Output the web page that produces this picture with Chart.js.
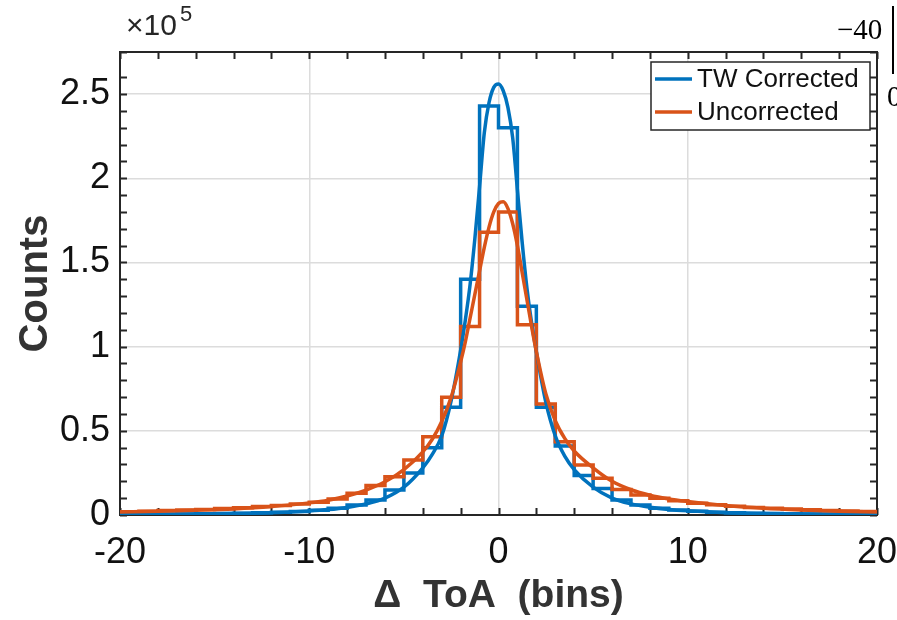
<!DOCTYPE html>
<html>
<head>
<meta charset="utf-8">
<title>ToA histogram</title>
<script src="https://cdn.jsdelivr.net/npm/chart.js@4.4.1/dist/chart.umd.min.js"></script>
<style>
    body { margin: 0; background: #fff; }
    #wrap { width: 897px; height: 620px; }
</style>
</head>
<body>
<div id="wrap"><canvas id="toaChart" width="897" height="620"></canvas></div>
<script>
// Histogram bin edges (bins of width 1)
const binEdges = [-20, -19, -18, -17, -16, -15, -14, -13, -12, -11, -10, -9, -8, -7, -6, -5, -4, -3, -2, -1,
    0, 1, 2, 3, 4, 5, 6, 7, 8, 9, 10, 11, 12, 13, 14, 15, 16, 17, 18, 19, 20];

// Counts per bin, in units of 10^5
const correctedCounts = [0.003, 0.004, 0.005, 0.006, 0.007, 0.009, 0.011, 0.013, 0.016, 0.021,
    0.028, 0.040, 0.059, 0.089, 0.148, 0.250, 0.400, 0.640, 1.400, 2.430,
    2.300, 1.240, 0.640, 0.410, 0.235, 0.158, 0.089, 0.059, 0.040, 0.030,
    0.022, 0.017, 0.013, 0.011, 0.009, 0.007, 0.006, 0.005, 0.004, 0.003];
const uncorrectedCounts = [0.020, 0.023, 0.026, 0.029, 0.033, 0.038, 0.043, 0.050, 0.057, 0.065,
    0.076, 0.095, 0.129, 0.175, 0.227, 0.326, 0.465, 0.700, 1.120, 1.680,
    1.800, 1.130, 0.660, 0.435, 0.297, 0.218, 0.152, 0.119, 0.099, 0.085,
    0.070, 0.061, 0.052, 0.045, 0.040, 0.035, 0.031, 0.027, 0.024, 0.021];

// Fitted curves
const fitX = [-20, -18, -16, -14, -12, -10, -9, -8, -7, -6, -5, -4, -3.5, -3, -2.5, -2, -1.75, -1.5, -1.25, -1,
    -0.75, -0.5, -0.25, 0, 0.25, 0.5, 0.75, 1, 1.25, 1.5, 1.75, 2, 2.5, 3, 3.5, 4, 5, 6, 7, 8, 9, 10,
    12, 14, 16, 18, 20];
const correctedFit = [0.003, 0.004, 0.006, 0.009, 0.014, 0.024, 0.032, 0.045, 0.066, 0.100, 0.165, 0.280, 0.360, 0.470, 0.680, 0.980, 1.160, 1.370, 1.640, 1.950,
    2.270, 2.450, 2.540, 2.560, 2.520, 2.420, 2.240, 1.930, 1.620, 1.350, 1.140, 0.970, 0.670, 0.470, 0.350, 0.270, 0.165, 0.100, 0.066, 0.046, 0.033, 0.025,
    0.014, 0.009, 0.006, 0.004, 0.003];
const uncorrectedFit = [0.018, 0.022, 0.028, 0.036, 0.050, 0.072, 0.088, 0.113, 0.148, 0.197, 0.270, 0.375, 0.450, 0.555, 0.700, 0.910, 1.030, 1.170, 1.310, 1.450,
    1.590, 1.710, 1.800, 1.850, 1.860, 1.820, 1.730, 1.600, 1.440, 1.280, 1.120, 0.970, 0.720, 0.560, 0.455, 0.380, 0.280, 0.200, 0.150, 0.117, 0.095, 0.080,
    0.056, 0.040, 0.030, 0.023, 0.018];

const seriesNames = ['TW Corrected', 'Uncorrected'];
const blue = '#0072BD';
const orange = '#D95319';
const axisColor = '#262626';
const sansFont = '"Liberation Sans", Arial, Helvetica, sans-serif';

// Turn bin values into points for a stepped line
function stairs(values) {
    return binEdges.map((e, i) => ({ x: e, y: values[Math.min(i, values.length - 1)] }));
}

function curve(values) {
    return fitX.map((x, i) => ({ x: x, y: values[i] }));
}

function isMultiple(v, step) {
    return Math.abs(v / step - Math.round(v / step)) < 1e-6;
}

// Box, inward ticks, exponent label (drawn under the data, like MATLAB)
const axesBox = {
    id: 'axesBox',
    beforeDatasetsDraw(chart) {
        const { ctx, chartArea: a, scales } = chart;
        const len = 7;
        ctx.save();
        ctx.strokeStyle = axisColor;
        ctx.lineWidth = 2;
        ctx.beginPath();
        scales.x.ticks.forEach(t => {
            const px = Math.round(scales.x.getPixelForValue(t.value)) + 0.5;
            ctx.moveTo(px, a.bottom); ctx.lineTo(px, a.bottom - len);
            ctx.moveTo(px, a.top); ctx.lineTo(px, a.top + len);
        });
        scales.y.ticks.forEach(t => {
            const py = Math.round(scales.y.getPixelForValue(t.value)) + 0.5;
            ctx.moveTo(a.left, py); ctx.lineTo(a.left + len, py);
            ctx.moveTo(a.right, py); ctx.lineTo(a.right - len, py);
        });
        ctx.stroke();
        ctx.strokeRect(a.left, a.top, a.right - a.left, a.bottom - a.top);
        ctx.restore();
    },
    afterDraw(chart) {
        const { ctx } = chart;
        ctx.save();
        ctx.fillStyle = axisColor;
        ctx.textBaseline = 'alphabetic';
        ctx.font = '30px ' + sansFont;
        ctx.fillText('\u00d710', 126, 35);
        ctx.font = '22px ' + sansFont;
        ctx.fillText('5', 180, 21);

        // legend
        const lx = 651, ly = 62, lw = 219, lh = 68;
        ctx.fillStyle = '#fff';
        ctx.fillRect(lx, ly, lw, lh);
        ctx.strokeStyle = axisColor;
        ctx.lineWidth = 1.5;
        ctx.strokeRect(lx, ly, lw, lh);
        ctx.font = '26px ' + sansFont;
        ctx.textBaseline = 'middle';
        [blue, orange].forEach((c, i) => {
            const y = ly + 17 + i * 33;
            ctx.strokeStyle = c;
            ctx.lineWidth = 3.5;
            ctx.beginPath();
            ctx.moveTo(lx + 4, y); ctx.lineTo(lx + 41, y);
            ctx.stroke();
            ctx.fillStyle = '#111';
            ctx.fillText(chart.data.datasets[i].label, lx + 46, y + 1);
        });

        // edge of the neighbouring panel, cut off in the source figure
        ctx.fillStyle = '#000';
        ctx.font = '29px "Liberation Serif", serif';
        ctx.textBaseline = 'alphabetic';
        ctx.fillText('\u221240', 837, 39);
        ctx.fillText('0', 887, 106);
        ctx.fillRect(892, 6, 2, 68);
        ctx.restore();
    }
};

const chart = new Chart(document.getElementById('toaChart'), {
    type: 'line',
    data: {
        datasets: [
            {
                label: seriesNames[0], data: curve(correctedFit), borderColor: blue, borderWidth: 3.5,
                pointRadius: 0, cubicInterpolationMode: 'monotone', order: 1
            },
            {
                label: seriesNames[1], data: curve(uncorrectedFit), borderColor: orange, borderWidth: 3.5,
                pointRadius: 0, cubicInterpolationMode: 'monotone', order: 0
            },
            {
                label: seriesNames[0] + ' histogram', data: stairs(correctedCounts), borderColor: blue, borderWidth: 3.5,
                pointRadius: 0, stepped: 'before', order: 3
            },
            {
                label: seriesNames[1] + ' histogram', data: stairs(uncorrectedCounts), borderColor: orange, borderWidth: 3.5,
                pointRadius: 0, stepped: 'before', order: 2
            }
        ]
    },
    options: {
        responsive: false,
        animation: false,
        layout: { padding: { top: 52, right: 20, left: 0, bottom: 0 } },
        plugins: {
            legend: { display: false },
            tooltip: { enabled: false }
        },
        scales: {
            x: {
                type: 'linear',
                min: -20,
                max: 20,
                border: { display: false },
                grid: {
                    drawTicks: false,
                    lineWidth: 1.5,
                    color: c => (c.tick && isMultiple(c.tick.value, 10)) ? '#dcdcdc' : 'rgba(0,0,0,0)'
                },
                ticks: {
                    stepSize: 2,
                    autoSkip: false,
                    maxRotation: 0,
                    padding: 16,
                    color: '#111',
                    font: { family: sansFont, size: 36 },
                    callback: v => isMultiple(v, 10) ? String(v) : ''
                },
                title: {
                    display: true,
                    text: '\u0394  ToA  (bins)',
                    color: '#333',
                    font: { family: sansFont, size: 39, weight: 'bold' },
                    padding: { top: 0, bottom: 0 }
                },
                afterFit: s => { s.height = 105; s.paddingLeft = 0; s.paddingRight = 0; }
            },
            y: {
                min: 0,
                max: 2.75,
                border: { display: false },
                grid: {
                    drawTicks: false,
                    lineWidth: 1.5,
                    color: c => (c.tick && isMultiple(c.tick.value, 0.5)) ? '#dcdcdc' : 'rgba(0,0,0,0)'
                },
                ticks: {
                    stepSize: 0.1,
                    autoSkip: false,
                    padding: 10,
                    color: '#111',
                    font: { family: sansFont, size: 36 },
                    callback: v => isMultiple(v, 0.5) ? String(Math.round(v * 10) / 10) : ''
                },
                title: {
                    display: true,
                    text: 'Counts',
                    color: '#333',
                    font: { family: sansFont, size: 40, weight: 'bold' },
                    padding: { top: 12, bottom: 0 }
                },
                afterFit: s => { s.width = 120; s.paddingTop = 0; s.paddingBottom = 0; }
            }
        }
    },
    plugins: [axesBox]
});
</script>
</body>
</html>
